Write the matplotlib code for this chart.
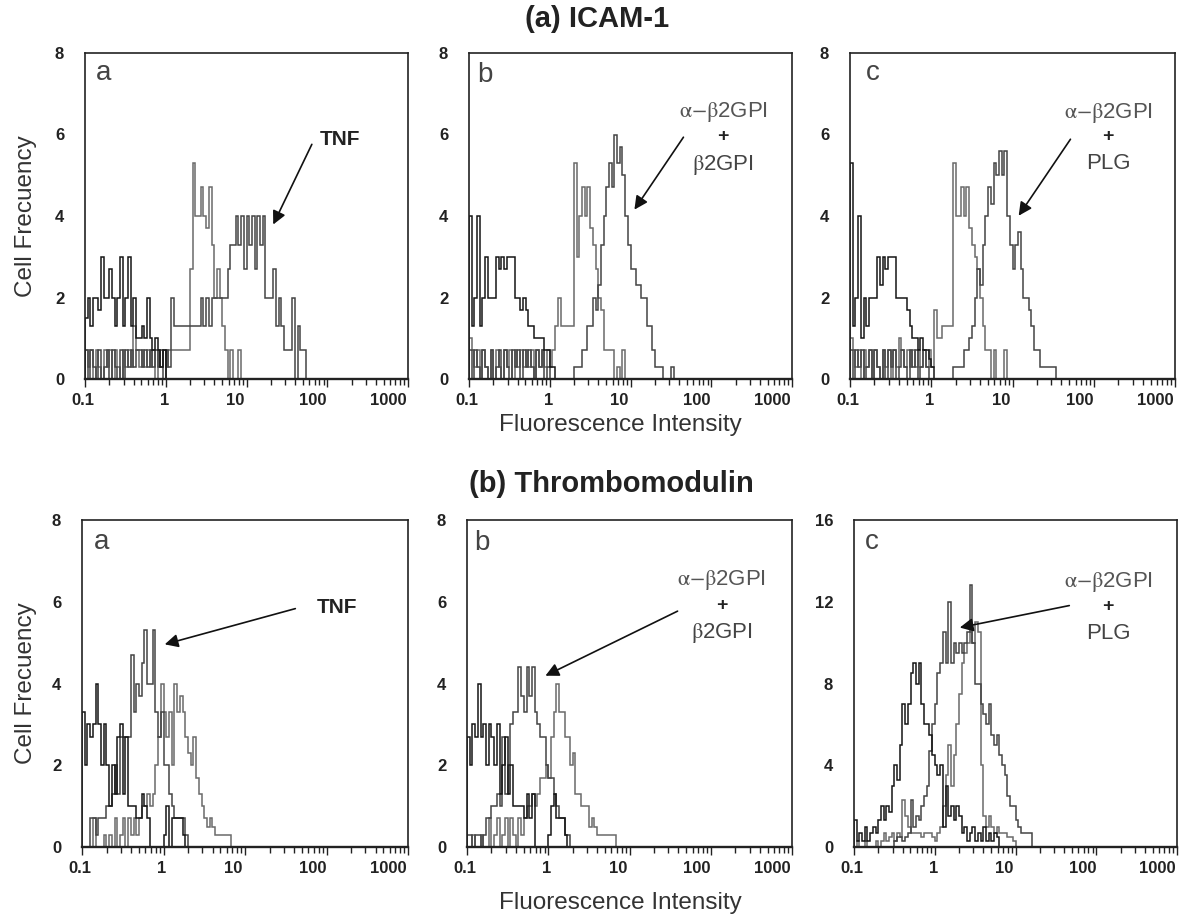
import numpy as np
import matplotlib
matplotlib.use('Agg')
import matplotlib.pyplot as plt
from matplotlib.transforms import ScaledTranslation

plt.rcParams['font.family'] = ['Liberation Sans', 'DejaVu Sans']
plt.rcParams['mathtext.fontset'] = 'stix'

# histogram channels: 30 bins per decade, first bin starts at 0.1
BINS_PER_DECADE = 30

# ---- (a) ICAM-1 ----
icam_a_ctrl = [1.5, 2.0, 1.3, 2.0, 2.0, 1.7, 3.0, 2.0, 2.0, 2.7, 2.0, 1.3, 2.0, 3.0, 1.3, 2.0, 3.0, 1.3, 2.0, 1.0,
               1.0, 1.3, 1.0, 2.0, 1.0, 0.7, 1.0, 0.7, 0.3, 0.7, 0]
icam_a_mid = [0.7, 0.3, 0.7, 0, 0.7, 0.3, 0, 0.7, 0.3, 0.7, 0, 0.7, 0.3, 0, 0.7, 0.3, 0.7, 0.3, 1.3, 0.7,
              0.3, 0.7, 0.3, 0.7, 0.3, 0.7, 0, 0.7, 0.3, 0.7,
              0.3, 0.7, 0.7, 0.7, 0.7, 0.7, 0.7, 0.7, 0.7, 2.7, 5.3, 4.0, 4.0, 4.7, 4.0, 3.7, 4.7, 3.3, 2.0, 2.7,
              2.0, 1.3, 0.7, 0, 0.7, 0, 0, 0.7, 0]
icam_a_tnf = [0.7, 0, 0.7, 0.3, 0, 0.7, 0, 0.3, 0.7, 0, 0.7, 0.3, 0, 0.7, 0, 0.7, 0.3, 0.7, 0.3, 0.7,
              0.7, 0.3, 0.7, 0.3, 0.7, 0.3, 0.7, 0.3, 0.7, 0,
              0.7, 0.3, 2.0, 1.3, 1.3, 1.3, 1.3, 1.3, 1.3, 1.3, 1.3, 1.3, 1.3, 2.0, 1.3, 2.0, 1.3, 2.0, 2.0, 2.0,
              2.0, 2.0, 2.0, 2.7, 3.3, 3.3, 4.0, 3.3, 4.0, 2.7,
              4.0, 3.3, 4.0, 2.7, 4.0, 3.3, 4.0, 2.0, 2.0, 2.0, 2.7, 1.3, 2.0, 1.3, 0.7, 0.7, 0.7, 2.0, 0, 1.3,
              0.7, 0.7, 0]

icam_b_ctrl = [4.0, 1.3, 2.0, 4.0, 1.3, 2.0, 3.0, 2.0, 2.0, 2.0, 3.0, 2.7, 3.0, 2.7, 3.0, 3.0, 3.0, 2.0, 2.0, 1.7,
               2.0, 1.7, 1.3, 1.3, 1.0, 1.0, 1.0, 1.0, 0.7, 0.7, 0.3, 0.3, 0]
icam_b_mid = [1.0, 0.7, 0.3, 0.7, 0, 0.7, 0.3, 0, 0.7, 0, 0.7, 0.3, 0, 0.7, 0.3, 0.7, 0, 0.7, 0.3, 0.7,
              0.3, 0.7, 0.3, 0.7, 0, 0.7, 0.3, 0.7, 0.3, 0.7,
              0.3, 0.7, 1.3, 2.0, 1.3, 1.3, 1.3, 1.3, 1.3, 5.3, 3.0, 4.0, 4.7, 4.0, 4.7, 3.7, 3.3, 2.7, 2.0, 1.7,
              0.7, 0.7, 0.7, 0.7, 0, 0.3, 0, 0.7, 0]
icam_b_gpi = [0.7, 0, 0.7, 0.3, 0, 0.7, 0.3, 0, 0.7, 0, 0.3, 0.7, 0, 0.7, 0.3, 0, 0.7, 0.3, 0.7, 0,
              0.7, 0.3, 0.7, 0.3, 0, 0.7, 0.3, 0.7, 0, 0.3,
              0, 0, 0, 0, 0, 0, 0, 0, 0, 0.3, 0.3, 0.3, 0.7, 0.7, 1.3, 1.3, 2.0, 1.7, 2.3, 3.3,
              4.0, 4.7, 5.3, 4.7, 6.0, 5.3, 5.7, 5.0, 4.0, 3.3,
              2.7, 2.7, 2.3, 2.3, 2.0, 2.0, 1.3, 1.3, 0.7, 0.3, 0.3, 0.3, 0, 0, 0, 0.3, 0]

icam_c_ctrl = [5.3, 1.3, 2.0, 4.0, 1.0, 2.0, 1.3, 2.0, 2.0, 2.0, 3.0, 2.3, 3.0, 2.7, 3.0, 3.0, 3.0, 2.0, 2.0, 2.0,
               2.0, 1.7, 1.3, 1.0, 1.0, 0.7, 1.0, 0.7, 0.7, 0.5, 0.3, 0]
icam_c_mid = [1.0, 0.7, 0.3, 0.7, 0, 0.7, 0.3, 0.7, 0, 0.7, 0.3, 0, 0.7, 0.3, 0.7, 0, 0.7, 0.3, 1.0, 0.7,
              0.3, 0.7, 0.3, 0.7, 0.3, 0.7, 0.3, 0.7, 0.3, 0.7,
              0.3, 1.7, 1.0, 1.0, 1.3, 1.3, 1.3, 1.3, 5.3, 4.0, 4.0, 4.7, 4.0, 4.7, 3.7, 3.3, 3.0, 2.7, 2.0, 1.3,
              0.7, 0.7, 0, 0.7, 0, 0, 0, 0.7, 0]
icam_c_plg = [0.7, 0, 0.7, 0.3, 0.7, 0, 0.3, 0.7, 0, 0.7, 0.3, 0, 0.7, 0, 0.7, 0.3, 0.7, 0, 0.3, 0.7,
              0.3, 0, 0.7, 0.3, 0.7, 0, 0.3, 0.7, 0.3, 0,
              0, 0, 0, 0, 0, 0, 0, 0, 0.3, 0.3, 0.3, 0.3, 0.7, 0.7, 1.0, 1.3, 2.0, 2.7, 2.3, 3.3,
              4.0, 4.7, 4.3, 5.3, 5.0, 5.6, 5.0, 5.6, 4.0, 3.3,
              2.7, 3.3, 3.6, 2.7, 2.0, 2.0, 1.7, 1.3, 0.7, 0.7, 0.3, 0.3, 0.3, 0.3, 0.3, 0.3, 0]

# ---- (b) Thrombomodulin ----
tm_a_ctrl = [3.3, 2.0, 3.0, 2.7, 3.0, 4.0, 3.0, 2.0, 3.0, 2.0, 1.0, 2.0, 1.3, 2.7, 3.0, 1.3, 2.7, 1.0, 1.0, 1.0,
             0.7, 0.7, 1.3, 1.0, 0.7, 0, 0, 0, 0, 0, 0.3, 1.0, 0, 0.7, 0.7, 0.7, 0.7, 0.3, 0]
tm_a_tnf = [0, 0, 0, 0.7, 0.7, 0.3, 0.7, 0.7, 0.7, 1.0, 1.0, 1.3, 2.0, 1.3, 2.7, 2.7, 2.7, 2.7, 4.7, 3.3,
            4.0, 3.7, 4.5, 5.3, 4.0, 4.0, 5.3, 3.3, 2.7, 3.3, 2.0, 2.0, 1.3, 1.0, 0.7, 0.7, 0.7, 0.7, 0.3, 0]
tm_a_anti = [0, 0, 0, 0, 0.7, 0, 0, 0, 0.3, 0, 0.3, 0, 0.7, 0, 0.3, 0.7, 0, 0.7, 0.3, 0.7,
             0.3, 0.7, 1.0, 1.0, 1.3, 1.0, 1.3, 2.0, 2.7, 4.0, 3.3, 2.7, 3.3, 2.0, 4.0, 3.3, 3.7, 3.3, 2.7, 2.3,
             2.0, 2.7, 1.7, 1.3, 1.0, 0.7, 0.5, 0.7, 0.5, 0.3, 0.3, 0.3, 0.3, 0.3, 0.3, 0]

tm_b_ctrl = [2.7, 2.0, 3.0, 2.7, 4.0, 2.7, 3.0, 2.0, 3.0, 2.7, 2.0, 3.0, 1.3, 2.0, 2.7, 1.3, 2.0, 1.0, 1.0, 1.0,
             1.0, 0.7, 1.3, 0.7, 1.3, 0, 0, 0, 0, 0, 0.3, 1.0, 1.3, 0.7, 0.7, 0.7, 0.3, 0]
tm_b_gpi = [0.3, 0.3, 0, 0.3, 0.3, 0, 0.3, 0.7, 0.7, 1.0, 1.0, 1.3, 1.0, 2.7, 1.3, 2.0, 3.0, 3.3, 3.3, 4.4,
            3.7, 3.3, 4.4, 3.7, 4.4, 3.3, 3.0, 2.7, 2.7, 2.0, 1.7, 1.7, 1.3, 1.0, 0.7, 0.7, 0.3, 0.3, 0]
tm_b_anti = [0, 0, 0.3, 0, 0, 0.3, 0, 0, 0.7, 0, 0.3, 0.7, 0, 0.3, 0.7, 0, 0.7, 0.3, 0, 0.7,
             0.3, 0.7, 1.0, 1.0, 1.3, 1.0, 1.3, 1.7, 1.7, 2.0, 1.7, 2.7, 3.3, 4.0, 3.3, 3.3, 2.7, 2.7, 2.0, 2.3,
             1.3, 1.3, 1.0, 1.0, 1.0, 0.5, 0.7, 0.5, 0.3, 0.3, 0.3, 0.3, 0.3, 0.3, 0.3, 0]

tm_c_ctrl = [1.3, 0.3, 0.7, 0.3, 1.0, 0.3, 0.7, 1.0, 0.7, 1.3, 2.0, 1.3, 2.0, 1.7, 3.0, 4.0, 3.3, 5.0, 7.0, 6.0,
             7.0, 8.5, 9.0, 8.0, 9.0, 7.0, 6.0, 6.0, 5.5, 4.5, 4.0, 3.5, 4.0, 1.0, 3.0, 1.5, 2.0, 1.3, 2.0, 1.5,
             0.7, 1.0, 0.3, 0.7, 1.0, 0.3, 0.7, 0.3, 1.0, 0.3, 0.7, 0.3, 0.7, 0.5, 0]
tm_c_plg = [0, 0, 0, 0, 0, 0, 0, 0, 0, 0, 0, 0, 0, 0, 0, 0.3, 0.5, 0.5, 0.3, 0.5,
            0.7, 2.3, 1.0, 1.5, 1.3, 2.0, 2.5, 3.0, 4.7, 6.0, 7.0, 8.5, 9.0, 10.5, 9.0, 12.0, 9.0, 10.0, 9.5, 10.0,
            9.5, 10.0, 10.5, 12.8, 10.0, 8.0, 8.0, 7.0, 6.5, 6.0, 7.0, 5.5, 5.0, 5.5, 4.5, 4.0, 3.5, 2.5, 2.0, 2.0,
            1.3, 1.0, 0.7, 0.7, 0.7, 0.7, 0]
tm_c_anti = [0, 0.3, 0, 0, 0.3, 0, 0, 0, 0.3, 0, 0.3, 0.7, 0.3, 0.5, 0.7, 0.3, 0.7, 0.5, 2.3, 1.5,
             1.0, 0.7, 0.7, 0.7, 0.7, 0.5, 0.7, 0.7, 0.7, 0.5, 0.3, 0.7, 1.0, 2.0, 3.5, 5.0, 3.0, 4.5, 6.0, 7.5,
             9.0, 9.5, 10.0, 10.5, 10.0, 11.0, 10.5, 4.0, 1.5, 1.0, 1.5, 1.0, 0.7, 1.0, 0.7, 0.7, 0.7, 0.5, 0.5, 0.3, 0]

x_ticks = [0.1, 1, 10, 100, 1000]
x_ticklabels = ['0.1', '1', '10', '100', '1000']
label_shift_px = [-2, -1.5, -11.5, -14, -20]

ALPHA_BETA = r'$\mathrm{\alpha{-}\beta}$2GPI'
BETA = r'$\mathrm{\beta}$2GPI'

C_CTRL, C_MID, C_TRT = '#151515', '#6a6a6a', '#444444'

fig = plt.figure(figsize=(11.79, 9.16), dpi=100)


def draw_panel(rect, traces, ymax, yticks, letter):
    ax = fig.add_axes(rect)
    for vals, col in traces:
        vals = np.asarray(vals, dtype=float)
        edges = 0.1 * 10 ** (np.arange(len(vals) + 1) / BINS_PER_DECADE)
        ax.stairs(vals, edges, color=col, lw=1.1)
    ax.set_xscale('log')
    ax.set_xlim(0.1, 1000)
    ax.set_ylim(0, ymax)
    ax.set_xticks(x_ticks)
    ax.set_xticklabels([])
    ax.set_yticks(yticks)
    ax.set_yticklabels([str(t) for t in yticks], fontweight='bold', fontsize=12, color='#222222')
    ax.tick_params(axis='y', length=0, pad=15)
    ax.tick_params(axis='x', which='major', direction='out', length=6, width=1, color='#222222')
    ax.tick_params(axis='x', which='minor', direction='out', length=4, width=1, color='#222222')
    for s in ax.spines.values():
        s.set_linewidth(1.2)
        s.set_color('#222222')
    ax.spines['bottom'].set_linewidth(1.7)
    for t, lab, dx in zip(x_ticks, x_ticklabels, label_shift_px):
        off = ScaledTranslation(dx / 100, -14 / 100, fig.dpi_scale_trans)
        ax.text(t, 0, lab, transform=ax.get_xaxis_transform() + off, ha='center', va='top',
                fontsize=12, fontweight='bold', color='#222222')
    ax.text(letter[1], letter[2], letter[0], transform=ax.transAxes, ha='center', va='center',
            fontsize=20, color='#444444')
    return ax


def label_block(ax, x, ys, lines, tail, head):
    ax.text(x, ys[0], lines[0], ha='center', va='center', fontsize=16, color='#555555')
    ax.text(x, ys[1], '+', ha='center', va='center', fontsize=14, fontweight='bold', color='#222222')
    ax.text(x, ys[2], lines[1], ha='center', va='center', fontsize=16, color='#444444')
    ax.annotate('', xy=head, xytext=tail,
                arrowprops=dict(arrowstyle='-|>', color='#111111', lw=1.2, mutation_scale=20))


W, H = 1179, 916


def rect(l, r, t, b):
    return [l / W, 1 - b / H, (r - l) / W, (b - t) / H]


# top row: ICAM-1
ax = draw_panel(rect(85, 408, 53, 379), [(icam_a_mid, C_MID), (icam_a_tnf, C_TRT), (icam_a_ctrl, C_CTRL)],
                8, [0, 2, 4, 6, 8], ('a', 0.056, 0.939))
ax.text(144, 5.87, 'TNF', ha='center', va='center', fontsize=15, fontweight='bold', color='#222222')
ax.annotate('', xy=(20.7, 3.73), xytext=(66.7, 5.82),
            arrowprops=dict(arrowstyle='-|>', color='#111111', lw=1.2, mutation_scale=20))

ax = draw_panel(rect(469, 792, 53, 379), [(icam_b_mid, C_MID), (icam_b_gpi, C_TRT), (icam_b_ctrl, C_CTRL)],
                8, [0, 2, 4, 6, 8], ('b', 0.05, 0.932))
label_block(ax, 140, [6.55, 5.96, 5.25], [ALPHA_BETA, BETA], (47.3, 5.99), (10.7, 4.10))

ax = draw_panel(rect(850, 1175, 53, 379), [(icam_c_mid, C_MID), (icam_c_plg, C_TRT), (icam_c_ctrl, C_CTRL)],
                8, [0, 2, 4, 6, 8], ('c', 0.071, 0.939))
label_block(ax, 150, [6.53, 5.94, 5.28], [ALPHA_BETA, 'PLG'], (54.0, 5.94), (11.4, 3.95))

# bottom row: Thrombomodulin
ax = draw_panel(rect(82, 408, 520, 847), [(tm_a_anti, C_MID), (tm_a_tnf, C_TRT), (tm_a_ctrl, C_CTRL)],
                8, [0, 2, 4, 6, 8], ('a', 0.061, 0.933))
ax.text(135, 5.87, 'TNF', ha='center', va='center', fontsize=15, fontweight='bold', color='#222222')
ax.annotate('', xy=(0.96, 4.94), xytext=(44.7, 5.85),
            arrowprops=dict(arrowstyle='-|>', color='#111111', lw=1.2, mutation_scale=20))

ax = draw_panel(rect(467, 792, 520, 847), [(tm_b_anti, C_MID), (tm_b_gpi, C_TRT), (tm_b_ctrl, C_CTRL)],
                8, [0, 2, 4, 6, 8], ('b', 0.046, 0.93))
label_block(ax, 137, [6.53, 5.92, 5.24], [ALPHA_BETA, BETA], (41.9, 5.80), (0.86, 4.16))

ax = draw_panel(rect(854, 1177, 520, 847), [(tm_c_anti, C_MID), (tm_c_plg, C_TRT), (tm_c_ctrl, C_CTRL)],
                16, [0, 4, 8, 12, 16], ('c', 0.056, 0.933))
label_block(ax, 140, [12.97, 11.79, 10.47], [ALPHA_BETA, 'PLG'], (50.1, 11.84), (1.89, 10.71))

# figure-level titles and axis labels
fig.text(597 / W, 1 - 19 / H, '(a) ICAM-1', ha='center', va='center', fontsize=21, fontweight='bold', color='#222222')
fig.text(611 / W, 1 - 484 / H, '(b) Thrombomodulin', ha='center', va='center', fontsize=21, fontweight='bold',
         color='#222222')
for yy in (425, 903):
    fig.text(620 / W, 1 - yy / H, 'Fluorescence Intensity', ha='center', va='center', fontsize=17.5, color='#333333')
for yy in (216, 683):
    fig.text(26 / W, 1 - yy / H, 'Cell Frecuency', ha='center', va='center', rotation=90, fontsize=17.5,
             color='#333333')

fig.savefig('out.png', dpi=100)
